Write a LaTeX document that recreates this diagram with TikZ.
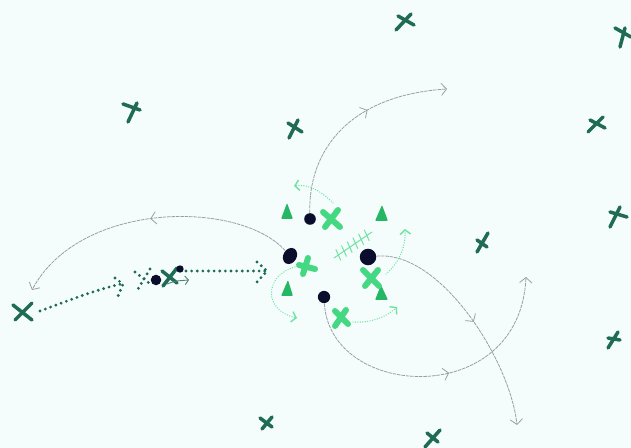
\documentclass[tikz,border=0pt]{standalone}
\usetikzlibrary{arrows.meta,decorations.markings,shapes.geometric}
\definecolor{bgc}{HTML}{F4FDFB}
\definecolor{dkg}{HTML}{1F6B56}
\definecolor{brg}{HTML}{45D883}
\definecolor{trg}{HTML}{25B666}
\definecolor{ltg}{HTML}{6DE2A2}
\definecolor{gry}{HTML}{9C9CA8}
\definecolor{nav}{HTML}{0A0E2C}
\tikzset{
 dkx/.style={draw=dkg,line width=2pt,line cap=round},
 brx/.style={draw=brg,line width=3.4pt,line cap=round},
 dotn/.style={circle,fill=nav,inner sep=0pt},
 tri/.style={fill=trg,rounded corners=0.6pt},
 arcg/.style={draw=gry,line width=0.45pt,dash pattern=on 2pt off 0.5pt,
   -{Straight Barb[length=3pt,width=7pt]},
   postaction={decorate},
   decoration={markings,mark=at position #1 with {\arrow{Straight Barb[length=3pt,width=7pt]}}}},
 dkdot/.style={draw=dkg,line width=1.8pt,line cap=round,dash pattern=on 0pt off 3.2pt},
 ltdot/.style={draw=ltg,line width=0.8pt,line cap=round,dash pattern=on 0pt off 1.4pt,
   -{Straight Barb[length=2.5pt,width=6pt]}},
 hatchl/.style={draw=ltg,line width=0.55pt},
}
\begin{document}
\begin{tikzpicture}[x=0.02cm,y=-0.02cm]
\fill[bgc] (0,0) rectangle (631,448);
\useasboundingbox (0,0) rectangle (631,448);
\clip (0,0) rectangle (631,448);

% scattered dark green crosses
\draw[dkx] (396,30)--(411,14) (398,16)--(414,25);
\draw[dkx] (620,47)--(625,28) (615,28)--(631,37);
\draw[dkx] (123,104)--(140,110) (137,103)--(128,122);
\draw[dkx] (288,123)--(302,132) (298,120)--(289,138);
\draw[dkx] (588,132)--(603,117) (590,120)--(605,128);
\draw[dkx] (610,227)--(620,207) (610,212)--(627,217);
\draw[dkx] (477,252)--(488,233) (477,240)--(487,247);
\draw[dkx] (13,305)--(32,320) (15,320)--(32,303);
\draw[dkx] (608,348)--(618,332) (608,338)--(620,340);
\draw[dkx] (260,418)--(272,427) (262,429)--(272,417);
\draw[dkx] (425,447)--(440,430) (427,433)--(438,442);
\draw[dkx] (163,286)--(177,268) (162,271)--(177,283);

% triangles
\fill[tri] (287,203)--(293,219)--(281,219)--cycle;
\fill[tri] (382,205)--(388,221)--(375,221)--cycle;
\fill[tri] (288,280)--(293,296)--(281,296)--cycle;
\fill[tri] (381,285)--(388,300)--(375,300)--cycle;

% dark dots
\node[dotn,minimum size=6.6pt] (d1) at (310,219) {};
\node[ellipse,fill=nav,inner sep=0pt,minimum width=7.6pt,minimum height=9.6pt,rotate=-30] (d2) at (290,256) {};
\node[dotn,minimum size=9.4pt] (d3) at (368,257) {};
\node[dotn,minimum size=7pt] (d4) at (324,297) {};
\node[dotn,minimum size=6pt] (d5) at (156,280) {};
\node[dotn,minimum size=4.2pt] (d6) at (180,269) {};

% gray arcs
\coordinate (e1) at (447,89);
\coordinate (e2) at (32,290);
\coordinate (e3) at (517,425);
\coordinate (e4) at (526,277);
\draw[arcg=0.6] (d1) .. controls (308,150) and (350,95) .. (e1);
\draw[arcg=0.5] (d2) .. controls (240,200) and (80,200) .. (e2);
\draw[arcg=0.52] (d3) .. controls (440,250) and (510,360) .. (e3);
\draw[arcg=0.55] (d4) .. controls (330,400) and (520,410) .. (e4);

% bright green crosses
\draw[brx] (323,212)--(340,227) (325,227)--(338,210);
\draw[brx] (308,258)--(303,274) (299,265)--(315,269);
\draw[brx] (363,270)--(379,286) (365,286)--(378,270);
\draw[brx] (335,311)--(348,324) (335,326)--(346,310);

% light green dotted arrows
\coordinate (a1) at (333,203); \coordinate (b1) at (294,186);
\coordinate (a2) at (386,274); \coordinate (b2) at (405,229);
\coordinate (a3) at (295,267); \coordinate (b3) at (297,318);
\coordinate (a4) at (353,322); \coordinate (b4) at (397,307);
\draw[ltdot] (a1) .. controls (320,190) and (308,184) .. (b1);
\draw[ltdot] (a2) .. controls (400,262) and (406,245) .. (b2);
\draw[ltdot] (a3) .. controls (265,275) and (262,310) .. (b3);
\draw[ltdot] (a4) .. controls (370,323) and (385,318) .. (b4);

% hatched stroke
\draw[hatchl] (334,258)--(372,232);
\foreach \t in {0.1,0.25,0.4,0.55,0.7,0.85}
  \draw[hatchl] ({334+38*\t},{258-26*\t}) ++(-2,-6) -- ++(5,11);

% dark green dotted arrows
\coordinate (s1) at (40,311); \coordinate (t1) at (121,284);
\draw[dkdot] (s1) .. controls (70,300) and (95,290) .. (t1);
\draw[dkdot] (115,278)--(123,284)--(118,296);
\coordinate (s2) at (186,271); \coordinate (t2) at (266,271);
\draw[dkdot] (s2)--(t2);
\draw[dkdot] (257,262)--(267,271)--(257,282);
\draw[dkdot] (135,272)--(149,283);
\draw[dkdot] (150,269)--(138,289);

% small thin arrow in cluster
\coordinate (s3) at (167,284); \coordinate (t3) at (189,280);
\draw[draw=dkg!60!gry,line width=0.5pt,-{Straight Barb[length=2pt,width=5pt]}] (s3) .. controls (175,281) .. (t3);
\end{tikzpicture}
\end{document}
